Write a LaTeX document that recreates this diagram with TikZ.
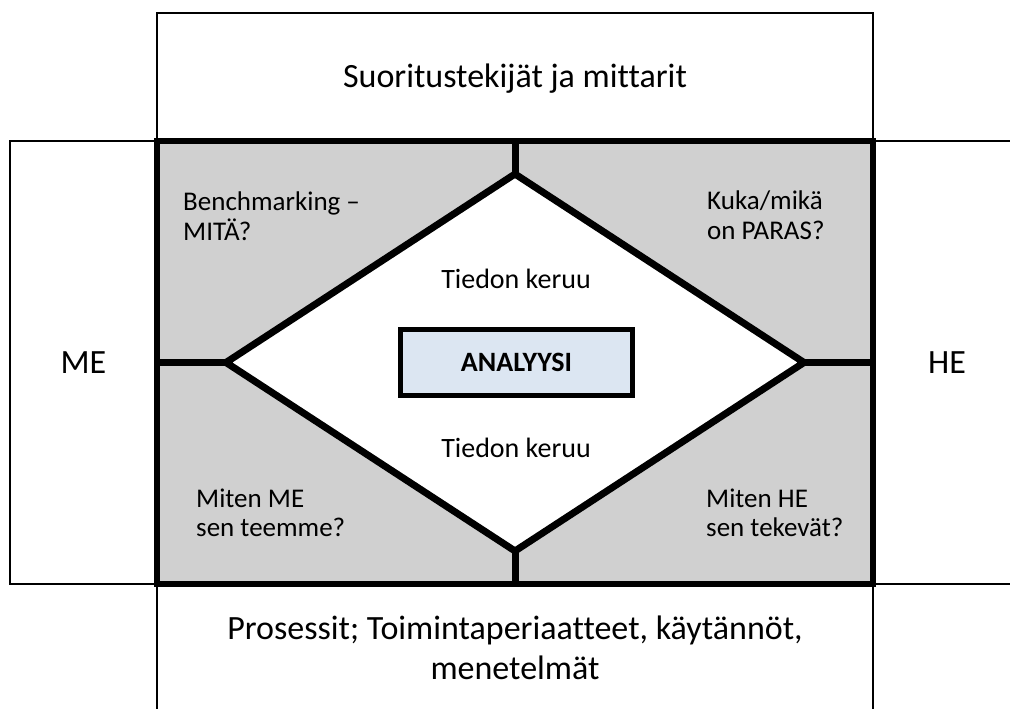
\documentclass[tikz,border=0pt]{standalone}
\usepackage{fontspec}
\setmainfont{Carlito}[Ligatures={TeX,NoCommon}]
\usetikzlibrary{shapes.geometric}
\definecolor{bmgray}{RGB}{208,208,208}
\definecolor{bmblue}{RGB}{220,230,242}

\begin{document}
\begin{tikzpicture}[x=1pt,y=-1pt,
  outer/.style={draw=black,line width=2.5pt,inner sep=0pt,outer sep=0pt},
  big/.style={font=\fontsize{34}{40}\selectfont},
  small/.style={font=\fontsize{27}{29.5}\selectfont,align=left,anchor=west,inner sep=0pt},
  keruu/.style={font=\fontsize{28}{32}\selectfont,anchor=base,inner sep=0pt},
  link/.style={line width=7pt}
]
  \useasboundingbox (0,0) rectangle (1010,709);
  \clip (0,0) rectangle (1010,709);
  \node[outer,big,minimum width=716pt,minimum height=128pt,text height=24pt,text depth=2pt] (mittarit) at (515,77)
        {Suoritustekijät ja mittarit};
  \node[outer,big,minimum width=147pt,minimum height=443pt] (me) at (83.5,362.5) {ME};
  \node[outer,big,minimum width=148pt,minimum height=443pt] (he) at (947,362.5) {HE};
  \node[outer,big,align=center,minimum width=716pt,minimum height=128pt] (prosessit) at (515,648)
        {Prosessit; Toimintaperiaatteet, käytännöt,\\menetelmät};
  \node[draw,fill=bmgray,line width=5.5pt,minimum width=716pt,minimum height=443pt,
        inner sep=0pt,outer sep=0pt] (core) at (515,362.5) {};
  \node[diamond,draw,fill=white,line width=7pt,minimum width=578pt,minimum height=377pt,
        inner sep=0pt,outer sep=0pt] (dia) at (515,362.5) {};
  \draw[link] (dia.north) -- (core.north);
  \draw[link] (dia.south) -- (core.south);
  \draw[link] (dia.west) -- (core.west);
  \draw[link] (dia.east) -- (core.east);
  \node[draw,fill=bmblue,line width=5pt,minimum width=232pt,minimum height=66pt,
        font=\bfseries\fontsize{28}{32}\selectfont] (analyysi) at (516.5,362.5) {ANALYYSI};
  \node[keruu] (keruu1) at (516,288) {Tiedon keruu};
  \node[keruu] (keruu2) at (516,457) {Tiedon keruu};
  \node[small] (mita) at (183,216) {Benchmarking –\\MITÄ?};
  \node[small] (paras) at (707,215) {Kuka/mikä\\on PARAS?};
  \node[small] (meidan) at (196,513) {Miten ME\\sen teemme?};
  \node[small] (heidan) at (706,513) {Miten HE\\sen tekevät?};
\end{tikzpicture}
\end{document}
